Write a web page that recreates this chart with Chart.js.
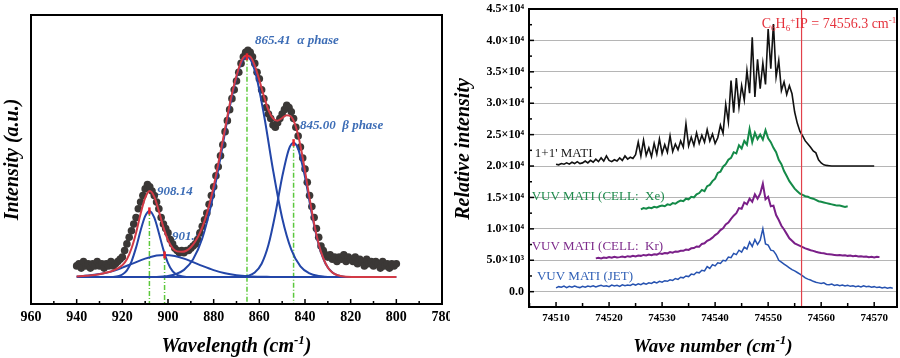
<!DOCTYPE html>
<html>
<head>
<meta charset="utf-8">
<script src="https://cdn.jsdelivr.net/npm/chart.js@4.4.1/dist/chart.umd.min.js"></script>
<style>
  html, body { margin: 0; padding: 0; background: #fff; }
  #wrap { position: relative; width: 900px; height: 358px; overflow: hidden; }
  canvas { position: absolute; top: 0; }
  #left { left: 0; }
  #right { left: 450px; }
</style>
</head>
<body>
<div id="wrap">
  <canvas id="left" width="450" height="358"></canvas>
  <canvas id="right" width="450" height="358"></canvas>
</div>
<script>
// ---------- left panel: fitted spectrum ----------
const wavelengthTicks = [780, 800, 820, 840, 860, 880, 900, 920, 940, 960];

// measured points, 940 -> 800 cm-1, one per cm-1
const obsStart = 940, obsStep = -1;
const obsIntensity = [
  0.05, 0.06, 0.04, 0.07, 0.05, 0.06, 0.04, 0.06, 0.05, 0.07,
  0.05, 0.06, 0.04, 0.06, 0.05, 0.07, 0.05, 0.06, 0.07, 0.08,
  0.09, 0.12, 0.15, 0.18, 0.21, 0.24, 0.27, 0.31, 0.34, 0.37,
  0.40, 0.42, 0.41, 0.39, 0.37, 0.34, 0.31, 0.27, 0.24, 0.22,
  0.20, 0.17, 0.15, 0.13, 0.12, 0.11, 0.12, 0.11, 0.12, 0.12,
  0.13, 0.14, 0.15, 0.17, 0.20, 0.23, 0.26, 0.29, 0.33, 0.37,
  0.41, 0.46, 0.50, 0.55, 0.60, 0.66, 0.71, 0.76, 0.81, 0.85,
  0.89, 0.93, 0.97, 1.00, 1.02, 1.03, 1.02, 1.00, 0.97, 0.93,
  0.90, 0.85, 0.81, 0.77, 0.74, 0.72, 0.69, 0.68, 0.70, 0.72,
  0.74, 0.76, 0.78, 0.77, 0.75, 0.72, 0.68, 0.64, 0.59, 0.54,
  0.49, 0.43, 0.37, 0.32, 0.27, 0.22, 0.18, 0.14, 0.12, 0.10,
  0.09, 0.10, 0.08, 0.09, 0.07, 0.09, 0.08, 0.10, 0.07, 0.09,
  0.08, 0.07, 0.09, 0.06, 0.08, 0.07, 0.05, 0.08, 0.06, 0.07,
  0.05, 0.07, 0.06, 0.04, 0.07, 0.05, 0.06, 0.04, 0.06, 0.05,
  0.06
];

// cumulative fit
const fitWl = [940, 936, 932, 928, 924, 920, 918, 916, 914, 912, 910, 908, 906, 904, 902,
  900, 898, 896, 894, 892, 890, 888, 886, 884, 882, 880, 876, 872, 868, 866,
  864, 862, 860, 858, 856, 854, 852, 850, 848, 846, 844, 842, 840, 838, 836,
  834, 832, 830, 828, 826, 822, 816, 800];
const fitIntensity = [0.002, 0.005, 0.009, 0.017, 0.029, 0.053, 0.080, 0.129, 0.200, 0.287, 0.359, 0.390, 0.364, 0.299, 0.225,
  0.167, 0.131, 0.116, 0.114, 0.119, 0.135, 0.162, 0.200, 0.254, 0.325, 0.411, 0.620, 0.831, 0.977, 1.005,
  1.001, 0.960, 0.894, 0.821, 0.758, 0.720, 0.710, 0.722, 0.735, 0.727, 0.682, 0.596, 0.482, 0.357, 0.242,
  0.150, 0.085, 0.043, 0.020, 0.009, 0.001, 0.000, 0.000];

// fitted components
const g908Wl = [924, 922, 920, 918, 916, 914, 912, 910, 908.14, 906, 904, 902, 900, 898, 896, 894, 892];
const g908I  = [0.000, 0.003, 0.011, 0.030, 0.070, 0.133, 0.211, 0.276, 0.300, 0.269, 0.200, 0.123, 0.063, 0.026, 0.009, 0.003, 0.000];
const g901Wl = [940, 935, 930, 925, 920, 915, 910, 905, 901.5, 897, 893, 889, 885, 880, 875, 870, 865, 860, 855];
const g901I  = [0.002, 0.006, 0.013, 0.024, 0.042, 0.063, 0.083, 0.097, 0.100, 0.095, 0.083, 0.067, 0.050, 0.031, 0.017, 0.008, 0.003, 0.001, 0.000];
const g865Wl = [905, 901, 897, 893, 889, 885, 881, 877, 873, 869, 865.41, 862, 858, 854, 850, 846, 842, 838, 834, 830];
const g865I  = [0.000, 0.003, 0.011, 0.032, 0.080, 0.175, 0.332, 0.544, 0.770, 0.943, 1.000, 0.938, 0.738, 0.486, 0.268, 0.124, 0.048, 0.016, 0.004, 0.000];
const g845Wl = [868, 865, 862, 859, 856, 853, 850, 847, 845, 843, 840, 837, 834, 831, 828, 825, 822];
const g845I  = [0.000, 0.005, 0.020, 0.060, 0.146, 0.286, 0.454, 0.582, 0.610, 0.582, 0.454, 0.286, 0.146, 0.060, 0.020, 0.005, 0.000];
const baselineWl = [940, 800];
const baselineI = [0, 0];

const peakCenters = [908.14, 901.5, 865.41, 845.00];
const peakHeights = [0.30, 0.10, 1.00, 0.61];

// ---------- right panel: MATI spectra ----------
const waveTicks = [74510, 74520, 74530, 74540, 74550, 74560, 74570];
const intensityTicks = [0, 5000, 10000, 15000, 20000, 25000, 30000, 35000, 40000, 45000];
const ipWave = 74556.3;
const waveStep = 0.5;

const matiStart = 74510;
const matiI = [
  20300, 20200, 20400, 20300, 20500, 20300, 20600, 20400, 20700, 20400,
  20500, 20800, 20500, 20900, 20600, 21100, 20700, 21300, 20800, 21600,
  20900, 20700, 21000, 20800, 21300, 20900, 21600, 21100, 21400, 21200,
  21800, 23800, 21600, 24100, 21700, 22900, 21500, 23600, 21900, 24300,
  22000, 23400, 22200, 24800, 22300, 23500, 22600, 24000, 23000, 26700,
  23200, 24600, 23300, 25300, 23600, 24900, 23800, 25800, 24000, 25100,
  23600, 24500, 26500, 25200, 29800, 27000, 33600, 28500, 34000, 29400,
  32800, 30500, 35200, 31600, 40500, 31000, 37000, 32300, 36400, 33000,
  41800, 35500, 42600, 34200, 36800, 32000, 33400, 31400, 32800, 31500,
  28600, 26800, 25500, 24800, 24000, 23500, 23000, 22400, 22100, 21000,
  20500, 20200, 20100, 20050, 20000, 20000, 20000, 20000, 20000, 20000,
  20000, 20000, 20000, 20000, 20000, 20000, 20000, 20000, 20000, 20000,
  20000
];

const xeStart = 74526;
const xeI = [
  13100, 13300, 13200, 13400, 13300, 13500, 13400, 13600, 13700, 13600,
  13900, 13800, 14100, 14000, 14300, 14500, 14400, 14800, 14700, 15100,
  15000, 15500, 15700, 16200, 16000, 16800, 17000, 17600, 18000, 18900,
  19100, 19900, 20300, 21000, 21300, 22200, 22000, 23300, 22800, 24000,
  23400, 25900, 23800, 25300, 24300, 25000, 24200, 25700, 24400, 23800,
  22900, 22200, 21000, 20300, 19200, 18400, 17600, 17000, 16400, 16000,
  15600, 15400, 15200, 15100, 14900, 14800, 14600, 14400, 14300, 14200,
  14100, 14000, 13900, 13800, 13700, 13700, 13600, 13500, 13600
];

const krStart = 74517.5;
const krI = [
  5300, 5400, 5300, 5450, 5350, 5500, 5400, 5550, 5450, 5500,
  5600, 5500, 5650, 5550, 5700, 5600, 5750, 5700, 5850, 5750,
  5900, 5800, 5950, 5900, 6100, 6000, 6150, 6100, 6300, 6200,
  6400, 6350, 6500, 6500, 6700, 6650, 6900, 6950, 7200, 7150,
  7600, 7700, 8100, 8300, 8600, 9000, 9300, 9800, 10100, 10700,
  11000, 11600, 12100, 12500, 13300, 13200, 14200, 13900, 14800, 14300,
  15500, 14800, 15600, 17200, 14700, 15100, 13600, 13700, 12200, 11400,
  10500, 9900, 9200, 8500, 8100, 7700, 7500, 7300, 7100, 6900,
  6750, 6600, 6500, 6350, 6250, 6150, 6100, 6000, 5950, 5900,
  5850, 5800, 5850, 5750, 5800, 5700, 5750, 5650, 5700, 5600,
  5650, 5550, 5600, 5500, 5550, 5450, 5550, 5500
];

const jetStart = 74510;
const jetI = [
  600, 800, 700, 900, 650, 850, 700, 900, 750, 650,
  850, 700, 900, 800, 950, 750, 900, 1000, 850, 950,
  800, 1050, 900, 1000, 850, 1100, 950, 1050, 1000, 1200,
  1050, 1250, 1100, 1350, 1200, 1400, 1300, 1550, 1400, 1650,
  1500, 1750, 1650, 1900, 1800, 2100, 1950, 2300, 2200, 2500,
  2400, 2800, 2700, 3100, 3000, 3400, 3300, 4000, 3700, 4300,
  4100, 4600, 4500, 5000, 4900, 5500, 5400, 6100, 5900, 6600,
  6300, 7100, 6800, 7900, 7200, 8300, 7500, 8200, 10000, 7600,
  7400, 6600, 6500, 5900, 5000, 4700, 4400, 4100, 3800, 3500,
  3300, 3050, 2800, 2500, 2200, 2000, 1850, 1650, 1500, 1400,
  1300, 1400, 1150, 1100, 1200, 1000, 1100, 950, 1050, 900,
  1000, 850, 950, 800, 900, 750, 950, 800, 850, 700,
  800, 650, 750, 600, 700, 550, 650, 550
];

// ---------- helpers ----------
const SERIF = "'Liberation Serif', 'Times New Roman', serif";

function pts(xs, ys) { return xs.map((x, i) => ({ x: x, y: ys[i] })); }
function stepped(start, step, ys) { return ys.map((y, i) => ({ x: start + i * step, y: y })); }

// parts: [text, kind]  kind 1 = superscript, -1 = subscript
function richText(ctx, parts, x, y, size, style, align) {
  const fontFor = k => `${style} ${k ? Math.round(size * 0.66) : size}px ${SERIF}`;
  let w = 0;
  parts.forEach(([t, k]) => { ctx.font = fontFor(k); w += ctx.measureText(t).width; });
  let cx = align === 'center' ? x - w / 2 : (align === 'right' ? x - w : x);
  ctx.textAlign = 'left';
  ctx.textBaseline = 'alphabetic';
  parts.forEach(([t, k]) => {
    ctx.font = fontFor(k);
    const dy = k === 1 ? -size * 0.4 : (k === -1 ? size * 0.22 : 0);
    ctx.fillText(t, cx, y + dy);
    cx += ctx.measureText(t).width;
  });
}

function frame(ctx, a) {
  ctx.save();
  ctx.strokeStyle = '#000';
  ctx.lineWidth = 2;
  ctx.strokeRect(a.left, a.top, a.right - a.left, a.bottom - a.top);
  ctx.restore();
}

const sup = { 3: '\u00b3', 4: '\u2074' };
function sciLabel(v) {
  if (v === 0) return '0.0';
  const e = Math.floor(Math.log10(v));
  return (v / Math.pow(10, e)).toFixed(1) + '\u00d710' + sup[e];
}

// ---------- left chart ----------
const leftDeco = {
  id: 'leftDeco',
  beforeDatasetsDraw(chart) {
    const { ctx, scales: { x, y } } = chart;
    const notes = [
      ['865.41  \u03b1 phase', 861.9, 1.056],
      ['845.00  \u03b2 phase', 842.2, 0.674],
      ['908.14', 904.8, 0.37],
      ['901.5', 898.2, 0.17]
    ];
    ctx.save();
    ctx.fillStyle = '#3d6db6';
    ctx.font = `italic bold 13px ${SERIF}`;
    ctx.textAlign = 'left';
    ctx.textBaseline = 'alphabetic';
    notes.forEach(([t, wl, v]) => ctx.fillText(t, x.getPixelForValue(wl), y.getPixelForValue(v)));
    ctx.restore();
  },
  afterDraw(chart) {
    const { ctx, chartArea: a, scales: { x } } = chart;
    frame(ctx, a);
    ctx.save();
    ctx.strokeStyle = '#000';
    ctx.lineWidth = 1.5;
    for (let v = 790; v < 960; v += 10) {
      const px = x.getPixelForValue(v);
      const len = v % 20 === 0 ? 5 : 3;
      ctx.beginPath(); ctx.moveTo(px, a.bottom); ctx.lineTo(px, a.bottom - len); ctx.stroke();
    }
    ctx.fillStyle = '#000';
    richText(ctx, [['Wavelength (cm', 0], ['-1', 1], [')', 0]], (a.left + a.right) / 2, 352, 20, 'italic bold', 'center');
    ctx.translate(18, (a.top + a.bottom) / 2);
    ctx.rotate(-Math.PI / 2);
    richText(ctx, [['Intensity (a.u.)', 0]], 0, 0, 20, 'italic bold', 'center');
    ctx.restore();
  }
};

const leftDatasets = [
  { data: peakCenters.map((c, i) => ({ x: c, y: peakHeights[i] })), showLine: false,
    pointStyle: 'line', rotation: 90, pointRadius: 3.5, borderColor: '#e8202a', borderWidth: 2.5, order: 0 },
  { data: pts(fitWl, fitIntensity), showLine: true, pointRadius: 0, borderColor: '#d23a46',
    borderWidth: 2, cubicInterpolationMode: 'monotone', order: 1 },
  { data: pts(g908Wl, g908I), showLine: true, pointRadius: 0, borderColor: '#2346a8', borderWidth: 2, cubicInterpolationMode: 'monotone', order: 2 },
  { data: pts(g901Wl, g901I), showLine: true, pointRadius: 0, borderColor: '#2346a8', borderWidth: 2, cubicInterpolationMode: 'monotone', order: 2 },
  { data: pts(g865Wl, g865I), showLine: true, pointRadius: 0, borderColor: '#2346a8', borderWidth: 2, cubicInterpolationMode: 'monotone', order: 2 },
  { data: pts(g845Wl, g845I), showLine: true, pointRadius: 0, borderColor: '#2346a8', borderWidth: 2, cubicInterpolationMode: 'monotone', order: 2 },
  { data: pts(baselineWl, baselineI), showLine: true, pointRadius: 0, borderColor: '#2346a8', borderWidth: 2, order: 2 },
  { data: stepped(obsStart, obsStep, obsIntensity), showLine: false, pointRadius: 3.8,
    backgroundColor: '#3b3836', borderWidth: 0, order: 4 }
];
peakCenters.forEach((c, i) => {
  leftDatasets.push({ data: [{ x: c, y: peakHeights[i] }, { x: c, y: -0.123 }], showLine: true, pointRadius: 0,
    borderColor: '#5cc83c', borderWidth: 1.5, borderDash: [5, 2, 1, 2], order: 3 });
});

new Chart(document.getElementById('left'), {
  type: 'scatter',
  data: { datasets: leftDatasets },
  options: {
    responsive: false, animation: false, devicePixelRatio: 1,
    layout: { padding: { left: 31, right: 8, top: 15, bottom: 0 } },
    plugins: { legend: { display: false }, tooltip: { enabled: false } },
    scales: {
      x: {
        type: 'linear', min: 780, max: 960, reverse: true,
        afterBuildTicks: s => { s.ticks = wavelengthTicks.map(v => ({ value: v })); },
        afterFit: s => { s.height = 54; s.paddingLeft = 0; s.paddingRight = 0; },
        grid: { display: false, drawTicks: false }, border: { display: false },
        ticks: { padding: 5, color: '#000', maxRotation: 0, autoSkip: false,
          font: { family: SERIF, size: 14, weight: 'bold' }, callback: v => String(v) }
      },
      y: { display: false, min: -0.123, max: 1.19 }
    }
  },
  plugins: [leftDeco]
});

// ---------- right chart ----------
const rightDeco = {
  id: 'rightDeco',
  afterDatasetsDraw(chart) {
    const { ctx, scales: { x, y } } = chart;
    const labels = [
      ["1+1' MATI", 74506.0, 21440, '#1a1a1a'],
      ['VUV MATI (CELL:  Xe)', 74505.4, 14590, '#1f8a4c'],
      ['VUV MATI (CELL:  Kr)', 74505.4, 6630, '#7d2b8b'],
      ['VUV MATI (JET)', 74506.4, 1860, '#2f5fb5']
    ];
    ctx.save();
    ctx.font = `13px ${SERIF}`;
    ctx.textAlign = 'left';
    ctx.textBaseline = 'alphabetic';
    labels.forEach(([t, wx, wy, c]) => { ctx.fillStyle = c; ctx.fillText(t, x.getPixelForValue(wx), y.getPixelForValue(wy)); });
    ctx.fillStyle = '#e5323c';
    richText(ctx, [['C', 0], ['6', -1], ['H', 0], ['6', -1], ['+', 1], ['IP = ' + ipWave + ' cm', 0], ['-1', 1]],
      x.getPixelForValue(74548.8), y.getPixelForValue(41930), 14, 'normal', 'left');
    ctx.restore();
  },
  afterDraw(chart) {
    const { ctx, chartArea: a, scales: { x, y } } = chart;
    frame(ctx, a);
    ctx.save();
    ctx.strokeStyle = '#000';
    ctx.lineWidth = 1.5;
    for (let v = 74505; v <= 74574; v += 5) {
      const px = x.getPixelForValue(v);
      const len = v % 10 === 0 ? 5 : 4;
      ctx.beginPath(); ctx.moveTo(px, a.bottom); ctx.lineTo(px, a.bottom - len); ctx.stroke();
    }
    for (let v = 0; v < 45000; v += 2500) {
      const py = y.getPixelForValue(v);
      const len = v % 5000 === 0 ? 5 : 3;
      ctx.beginPath(); ctx.moveTo(a.left, py); ctx.lineTo(a.left + len, py); ctx.stroke();
    }
    ctx.fillStyle = '#000';
    richText(ctx, [['Wave number (cm', 0], ['-1', 1], [')', 0]], (a.left + a.right) / 2, 352, 19, 'italic bold', 'center');
    ctx.translate(19, 149);
    ctx.rotate(-Math.PI / 2);
    richText(ctx, [['Relative intensity', 0]], 0, 0, 20, 'italic bold', 'center');
    ctx.restore();
  }
};

const trace = (start, ys, color, w) => ({ data: stepped(start, waveStep, ys), showLine: true, pointRadius: 0,
  borderColor: color, borderWidth: w, order: 1 });

new Chart(document.getElementById('right'), {
  type: 'scatter',
  data: {
    datasets: [
      { data: [{ x: ipWave, y: -2440 }, { x: ipWave, y: 45000 }], showLine: true, pointRadius: 0,
        borderColor: '#e2404a', borderWidth: 1.2, order: 0 },
      trace(matiStart, matiI, '#111111', 1.6),
      trace(xeStart, xeI, '#148a48', 2),
      trace(krStart, krI, '#7a1f88', 2),
      trace(jetStart, jetI, '#2652b0', 1.5)
    ]
  },
  options: {
    responsive: false, animation: false, devicePixelRatio: 1,
    layout: { padding: { left: 0, right: 3, top: 9, bottom: 0 } },
    plugins: { legend: { display: false }, tooltip: { enabled: false } },
    scales: {
      x: {
        type: 'linear', min: 74504.9, max: 74574.3,
        afterBuildTicks: s => { s.ticks = waveTicks.map(v => ({ value: v })); },
        afterFit: s => { s.height = 51; s.paddingLeft = 0; s.paddingRight = 0; },
        grid: { display: false, drawTicks: false }, border: { display: false },
        ticks: { padding: 5, color: '#000', maxRotation: 0, autoSkip: false,
          font: { family: SERIF, size: 11, weight: 'bold' }, callback: v => String(v) }
      },
      y: {
        min: -2440, max: 45000,
        afterBuildTicks: s => { s.ticks = intensityTicks.map(v => ({ value: v })); },
        afterFit: s => { s.width = 79; s.paddingTop = 0; s.paddingBottom = 0; },
        grid: { color: '#b5b5b5', lineWidth: 1, drawTicks: false }, border: { display: false },
        ticks: { padding: 5, color: '#000', font: { family: SERIF, size: 12, weight: 'bold' }, callback: v => sciLabel(v) }
      }
    }
  },
  plugins: [rightDeco]
});
</script>
</body>
</html>
